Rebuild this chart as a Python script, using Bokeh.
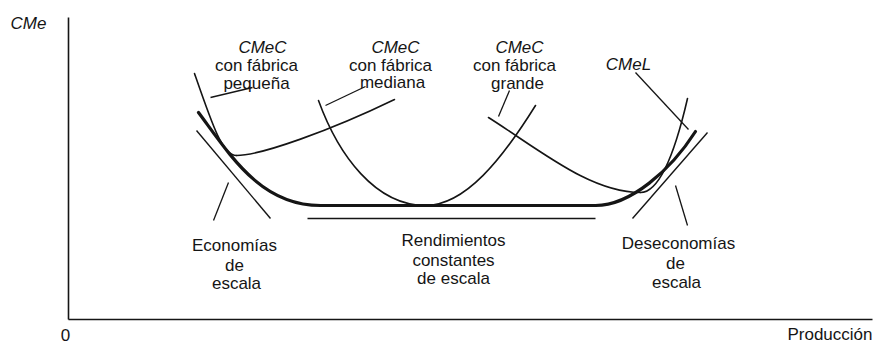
from bokeh.plotting import figure
from bokeh.models import Range1d, Label, ColumnDataSource
from bokeh.embed import file_html
from bokeh.resources import INLINE

# ---- Curves (x = Producción, y = CMe), chained cubic Bézier points: P0, C, C, P1, C, C, P2 ...
cmec_pequena_x = [126, 144, 154, 168, 192, 262, 326]
cmec_pequena_y = [246, 194, 164, 164, 164, 189, 220]
cmec_mediana_x = [250, 270, 307, 357, 397, 434, 467]
cmec_mediana_y = [219, 164, 114, 114, 114, 161, 214]
cmec_grande_x = [420, 472, 522, 572, 592, 607, 619]
cmec_grande_y = [202, 169, 127, 127, 127, 169, 221]
cmel_x = [130, 162, 192, 252, 344, 435, 527, 562, 602, 627]
cmel_y = [207, 164, 114, 114, 114, 114, 114, 114, 149, 188]

# ---- Axes extent
eje_x_max = 804
eje_y_max = 302

# ---- Straight marks (start/end)
tangente_econ_x = [128, 202]
tangente_econ_y = [189, 101]
rend_const_x = [239, 527]
rend_const_y = [101, 101]
tangente_desecon_x = [639, 564]
tangente_desecon_y = [187, 101]

# ---- Leader lines
guia_x0 = [142, 257, 430, 567, 160, 607]
guia_y0 = [222, 214, 203, 247, 137, 134]
guia_x1 = [184, 297, 441, 620, 145, 619]
guia_y1 = [232, 233, 229, 190, 99, 94]

# ---- Texts
textos = ["CMeC", "con fábrica", "pequeña",
          "CMeC", "con fábrica", "mediana",
          "CMeC", "con fábrica", "grande",
          "CMeL",
          "Economías", "de", "escala",
          "Rendimientos", "constantes", "de escala",
          "Deseconomías", "de", "escala"]
textos_x = [194, 188, 188, 327, 322, 324, 451, 446, 449, 560,
            166, 166, 168, 385, 385, 385, 610, 607, 608]
textos_y = [272, 254, 236, 272, 254, 237, 272, 254, 236, 255,
            74, 54, 36, 79, 59, 41, 76, 56, 37]
italica = [True, False, False, True, False, False, True, False, False, True,
           False, False, False, False, False, False, False, False, False]

FONT = "Liberation Sans"
FS = "17px"
INK = "#151515"

W, H = 876, 344
OX, OY = 68, 319  # where the origin sits in the picture
p = figure(width=W, height=H, output_backend="svg", toolbar_location=None,
           x_range=Range1d(-OX, W - OX), y_range=Range1d(OY - H, OY),
           min_border=0)
p.axis.visible = False
p.grid.visible = False
p.outline_line_color = None
p.background_fill_color = "white"
p.border_fill_color = "white"

# axes
p.line([0, 0], [0, eje_y_max], line_color=INK, line_width=1.6)
p.line([0, eje_x_max], [0, 0], line_color=INK, line_width=1.6)


def bez(xs, ys, width):
    n = (len(xs) - 1) // 3
    src = ColumnDataSource(dict(
        x0=[xs[3 * i] for i in range(n)], y0=[ys[3 * i] for i in range(n)],
        cx0=[xs[3 * i + 1] for i in range(n)], cy0=[ys[3 * i + 1] for i in range(n)],
        cx1=[xs[3 * i + 2] for i in range(n)], cy1=[ys[3 * i + 2] for i in range(n)],
        x1=[xs[3 * i + 3] for i in range(n)], y1=[ys[3 * i + 3] for i in range(n)]))
    p.bezier(x0="x0", y0="y0", x1="x1", y1="y1", cx0="cx0", cy0="cy0", cx1="cx1", cy1="cy1",
             source=src, line_color=INK, line_width=width, line_cap="round")


bez(cmec_pequena_x, cmec_pequena_y, 1.6)
bez(cmec_mediana_x, cmec_mediana_y, 1.6)
bez(cmec_grande_x, cmec_grande_y, 1.6)
bez(cmel_x, cmel_y, 3.2)

for xs, ys in ((tangente_econ_x, tangente_econ_y), (rend_const_x, rend_const_y),
               (tangente_desecon_x, tangente_desecon_y)):
    p.line(xs, ys, line_color=INK, line_width=1.4)

p.segment(x0=guia_x0, y0=guia_y0, x1=guia_x1, y1=guia_y1, line_color=INK, line_width=1.3)

for t, x, y, it in zip(textos, textos_x, textos_y, italica):
    p.add_layout(Label(x=x, y=y, text=t, text_align="center", text_baseline="alphabetic",
                       text_font=FONT, text_font_size=FS, text_color=INK,
                       text_font_style="italic" if it else "normal"))

# axis titles and origin
p.add_layout(Label(x=-58, y=296, text="CMe", text_align="left", text_baseline="alphabetic",
                   text_font=FONT, text_font_size=FS, text_color=INK, text_font_style="italic"))
p.add_layout(Label(x=-3, y=-15, text="0", text_align="center", text_baseline="alphabetic",
                   text_font=FONT, text_font_size=FS, text_color=INK))
p.add_layout(Label(x=eje_x_max, y=-15, text="Producción", text_align="right", text_baseline="alphabetic",
                   text_font=FONT, text_font_size=FS, text_color=INK))

open("out.html", "w").write(file_html(p, INLINE))
